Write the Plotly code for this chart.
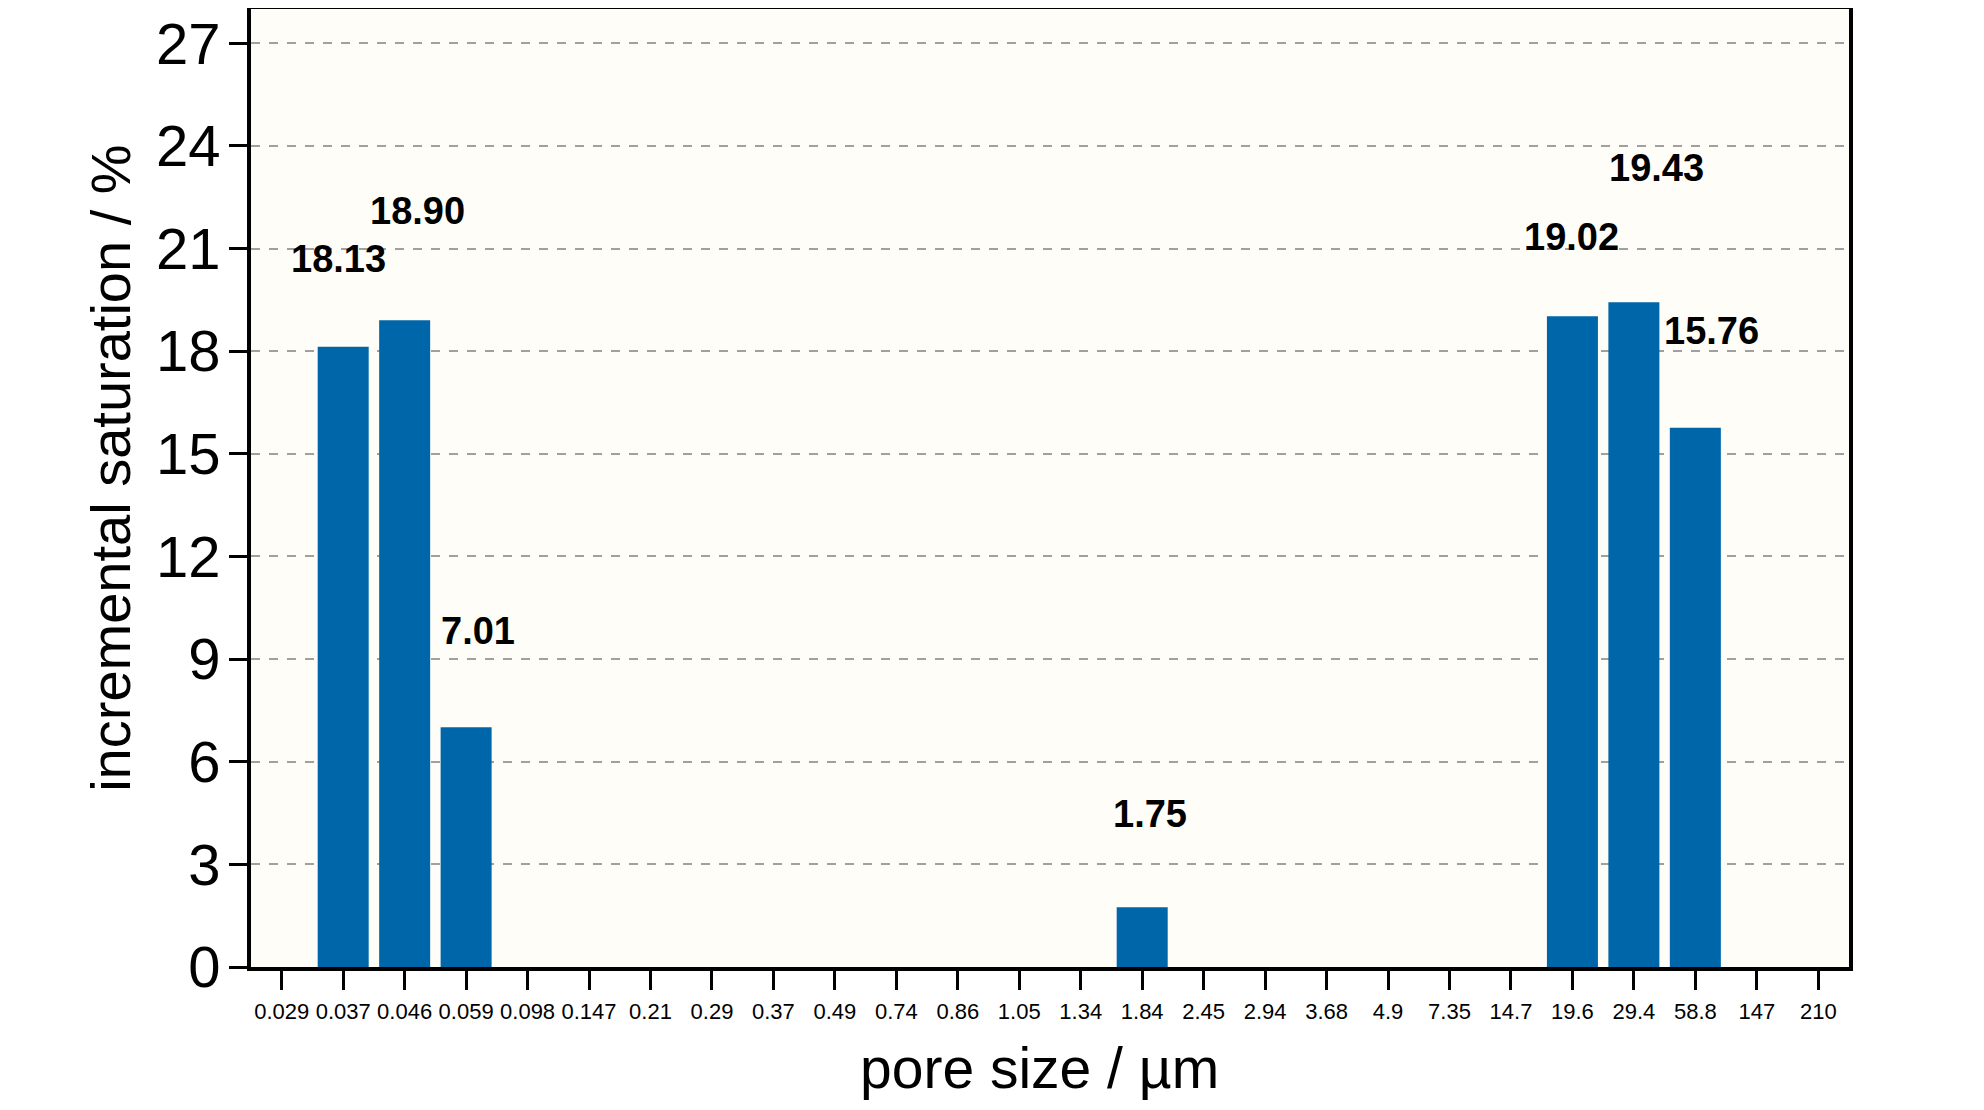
import plotly.graph_objects as go

# pore size classes (category axis) and incremental saturation per class
pore_sizes = ["0.029", "0.037", "0.046", "0.059", "0.098", "0.147", "0.21", "0.29",
              "0.37", "0.49", "0.74", "0.86", "1.05", "1.34", "1.84", "2.45", "2.94",
              "3.68", "4.9", "7.35", "14.7", "19.6", "29.4", "58.8", "147", "210"]
saturation = [0, 18.13, 18.90, 7.01, 0, 0, 0, 0, 0, 0, 0, 0, 0, 0, 1.75, 0, 0,
              0, 0, 0, 0, 19.02, 19.43, 15.76, 0, 0]
y_ticks = [0, 3, 6, 9, 12, 15, 18, 21, 24, 27]

# pixel nudges of the value labels relative to the bar tops (as in the original figure)
label_shift = {"0.037": (-5, 88), "0.046": (13, 109), "0.059": (12, 96),
               "1.84": (8, 93), "19.6": (-1, 79), "29.4": (23, 134), "58.8": (16, 97)}

FONT = "Liberation Sans Narrow, Arial Narrow, Liberation Sans, Arial, sans-serif"
BLUE = "#0066aa"

fig = go.Figure()
fig.add_trace(go.Bar(
    x=pore_sizes,
    y=saturation,
    marker=dict(color=BLUE, line=dict(width=0)),
    hoverinfo="x+y",
))

# value labels above the non-empty bars (x given as category index)
for i, (cat, val) in enumerate(zip(pore_sizes, saturation)):
    if val <= 0:
        continue
    dx, dy = label_shift.get(cat, (0, 90))
    fig.add_annotation(
        x=i, y=val, text=f"{val:.2f}", showarrow=False,
        xanchor="center", yanchor="middle", xshift=dx, yshift=dy,
        font=dict(family=FONT, size=38, color="black", weight="bold"),
    )

# axis titles as annotations (slightly off-centre, like the original)
fig.add_annotation(
    text="incremental saturation / %", xref="paper", yref="paper",
    x=0, y=0.52, xanchor="center", yanchor="middle", xshift=-140,
    textangle=-90, showarrow=False,
    font=dict(family=FONT, size=56, color="black"),
)
fig.add_annotation(
    text="pore size / µm", xref="paper", yref="paper",
    x=0.5, y=0, xanchor="center", yanchor="middle", xshift=-11, yshift=-101,
    showarrow=False,
    font=dict(family=FONT, size=57, color="black"),
)

fig.update_layout(
    width=1984, height=1110,
    margin=dict(l=243, r=143, t=1, b=151, autoexpand=False),
    paper_bgcolor="white",
    plot_bgcolor="#fffdf7",
    bargap=0.17,
    showlegend=False,
    font=dict(family=FONT, color="black"),
)
fig.update_xaxes(
    type="category",
    categoryorder="array", categoryarray=pore_sizes,
    range=[-0.5, len(pore_sizes) - 0.5],
    showline=True, linecolor="black", linewidth=4, mirror=True,
    ticks="outside", ticklen=19, tickwidth=3, tickcolor="black",
    tickangle=0, automargin=False, ticklabelstandoff=3,
    tickfont=dict(family=FONT, size=22, color="black"),
    showgrid=False, zeroline=False,
)
fig.update_yaxes(
    range=[0, 28],
    tickvals=y_ticks, ticktext=[str(v) for v in y_ticks],
    showline=True, linecolor="black", linewidth=4, mirror=True,
    ticks="outside", ticklen=18, tickwidth=3, tickcolor="black",
    automargin=False, ticklabelstandoff=-3,
    tickfont=dict(family=FONT, size=58, color="black"),
    showgrid=True, gridcolor="#a0a0a0", gridwidth=1.5, griddash="dash",
    zeroline=False,
)

fig.write_html("out.html")
